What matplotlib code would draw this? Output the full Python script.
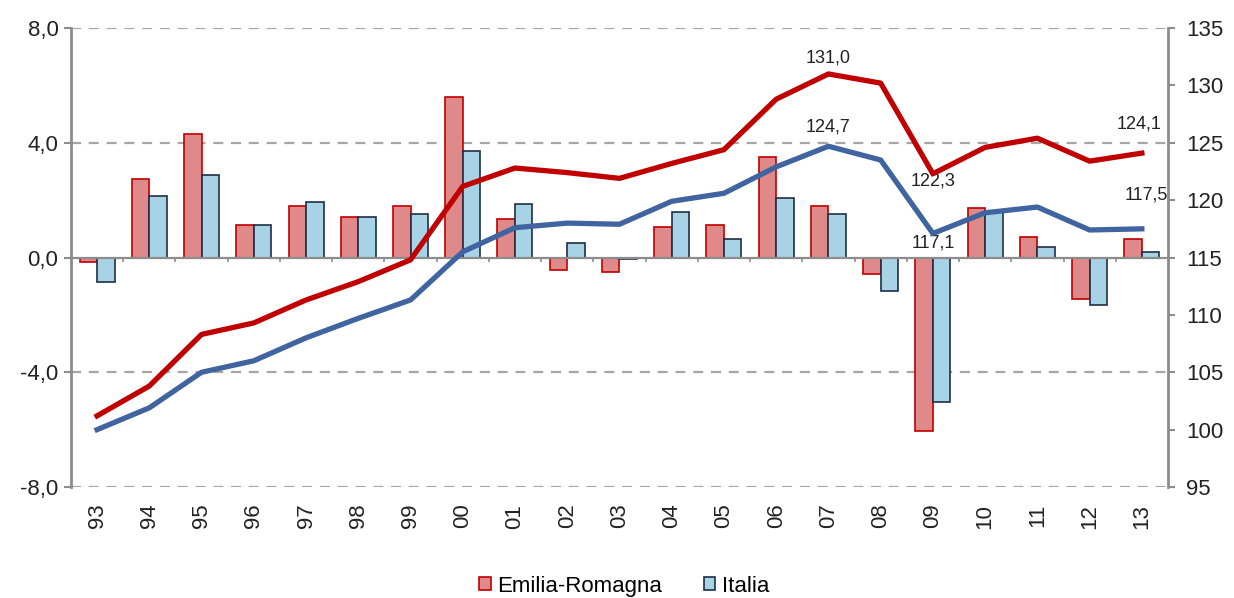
import numpy as np
import matplotlib
matplotlib.use("Agg")
import matplotlib.pyplot as plt
from matplotlib.patches import Patch
from matplotlib.ticker import FuncFormatter

plt.rcParams["font.family"] = ["Liberation Sans", "DejaVu Sans"]

# Years and annual % changes (bars, left axis)
years = ["93", "94", "95", "96", "97", "98", "99", "00", "01", "02", "03",
         "04", "05", "06", "07", "08", "09", "10", "11", "12", "13"]
er_change = [-0.15, 2.75, 4.32, 1.15, 1.78, 1.43, 1.78, 5.61, 1.36, -0.42, -0.49,
             1.08, 1.15, 3.52, 1.78, -0.56, -6.03, 1.74, 0.73, -1.43, 0.66]
it_change = [-0.85, 2.16, 2.86, 1.15, 1.92, 1.43, 1.53, 3.73, 1.88, 0.52, -0.05,
             1.57, 0.66, 2.09, 1.53, -1.15, -5.05, 1.62, 0.35, -1.67, 0.21]

# Index levels (lines, right axis)
er_index = [101.2, 103.8, 108.3, 109.3, 111.3, 112.9, 114.8, 121.2, 122.8, 122.4, 121.9,
            123.2, 124.4, 128.8, 131.0, 130.2, 122.3, 124.6, 125.4, 123.4, 124.1]
it_index = [100.0, 101.9, 105.0, 106.0, 108.0, 109.7, 111.3, 115.5, 117.6, 118.0, 117.9,
            119.9, 120.6, 122.9, 124.7, 123.5, 117.1, 118.9, 119.4, 117.4, 117.5]

ER_FILL, ER_EDGE, ER_LINE = "#E0898A", "#C00000", "#C00000"
IT_FILL, IT_EDGE, IT_LINE = "#A8D2E6", "#1F2F45", "#3F64A0"
GREY = "#8C8C8C"
TXT = "#222222"

x = np.arange(len(years))
w = 0.335

fig = plt.figure(figsize=(12.34, 5.98), dpi=100)
ax = fig.add_axes([0.0575, 0.1856, 0.889, 0.7675])
ax2 = ax.twinx()

ax.bar(x - w / 2, er_change, w, color=ER_FILL, edgecolor=ER_EDGE, linewidth=1.2, zorder=3)
ax.bar(x + w / 2, it_change, w, color=IT_FILL, edgecolor=IT_EDGE, linewidth=1.2, zorder=3)

# dashed grid and zero axis line
for yv in [8, 4, -4, -8]:
    ax.axhline(yv, color="#A6A6A6", lw=1.6, ls=(0, (4.5, 3.5)), zorder=1)
ax.axhline(0, color=GREY, lw=1.6, zorder=4)
ax.vlines(x[1:] - 0.5, -0.15, 0, color=GREY, lw=1.2, zorder=4)

ax.set_xlim(-0.5, len(years) - 0.5)
ax.set_ylim(-8, 8)
ax.set_yticks([-8, -4, 0, 4, 8])
ax.yaxis.set_major_formatter(FuncFormatter(lambda v, p: f"{v:.1f}".replace(".", ",")))
ax.set_xticks(x)
ax.set_xticklabels(years, rotation=90)
ax.tick_params(axis="x", length=0, pad=12, labelsize=16, colors=TXT)
ax.tick_params(axis="y", direction="out", length=5, width=1.5, color=GREY,
               labelsize=16, labelcolor=TXT, pad=4)

# index lines
ax2.plot(x, er_index, color=ER_LINE, lw=3.8, solid_joinstyle="round", zorder=5)
ax2.plot(x, it_index, color=IT_LINE, lw=3.8, solid_joinstyle="round", zorder=5)
ax2.set_ylim(95, 135)
ax2.set_yticks(range(95, 136, 5))
ax2.tick_params(axis="y", direction="out", length=5, width=1.5, color=GREY,
                labelsize=16, labelcolor=TXT, pad=8)

for a in (ax, ax2):
    a.spines["top"].set_visible(False)
    a.spines["bottom"].set_visible(False)
    a.spines["left"].set_color(GREY)
    a.spines["right"].set_color(GREY)
    a.spines["left"].set_linewidth(2)
    a.spines["right"].set_linewidth(2)
ax.spines["right"].set_visible(False)
ax2.spines["left"].set_visible(False)

# value labels
fmt = lambda v: f"{v:.1f}".replace(".", ",")
lbl = dict(fontsize=13, color=TXT, ha="center")
i07, i09, i13 = years.index("07"), years.index("09"), years.index("13")
ax2.annotate(fmt(er_index[i07]), (x[i07], er_index[i07]), xytext=(0, 5),
             textcoords="offset points", va="bottom", **lbl)
ax2.annotate(fmt(it_index[i07]), (x[i07], it_index[i07]), xytext=(0, 8),
             textcoords="offset points", va="bottom", **lbl)
ax2.annotate(fmt(er_index[i09]), (x[i09], er_index[i09]), xytext=(0, 1),
             textcoords="offset points", va="top", **lbl)
ax2.annotate(fmt(it_index[i09]), (x[i09], it_index[i09]), xytext=(0, -1),
             textcoords="offset points", va="top", **lbl)
ax2.annotate(fmt(er_index[i13]), (x[i13], er_index[i13]), xytext=(-2, 15),
             textcoords="offset points", va="bottom", **lbl)
ax2.annotate(fmt(it_index[i13]), (x[i13], it_index[i13]), xytext=(3, 18),
             textcoords="offset points", va="bottom", **lbl)

handles = [Patch(facecolor=ER_FILL, edgecolor=ER_EDGE, lw=1.2, label="Emilia-Romagna"),
           Patch(facecolor=IT_FILL, edgecolor=IT_EDGE, lw=1.2, label="Italia")]
fig.legend(handles=handles, loc="center", bbox_to_anchor=(0.506, 0.02), ncol=2,
           frameon=False, fontsize=16, handlelength=0.5, handleheight=0.5,
           handletextpad=0.3, columnspacing=1.9, borderpad=0)

fig.savefig("out.png", dpi=100)
